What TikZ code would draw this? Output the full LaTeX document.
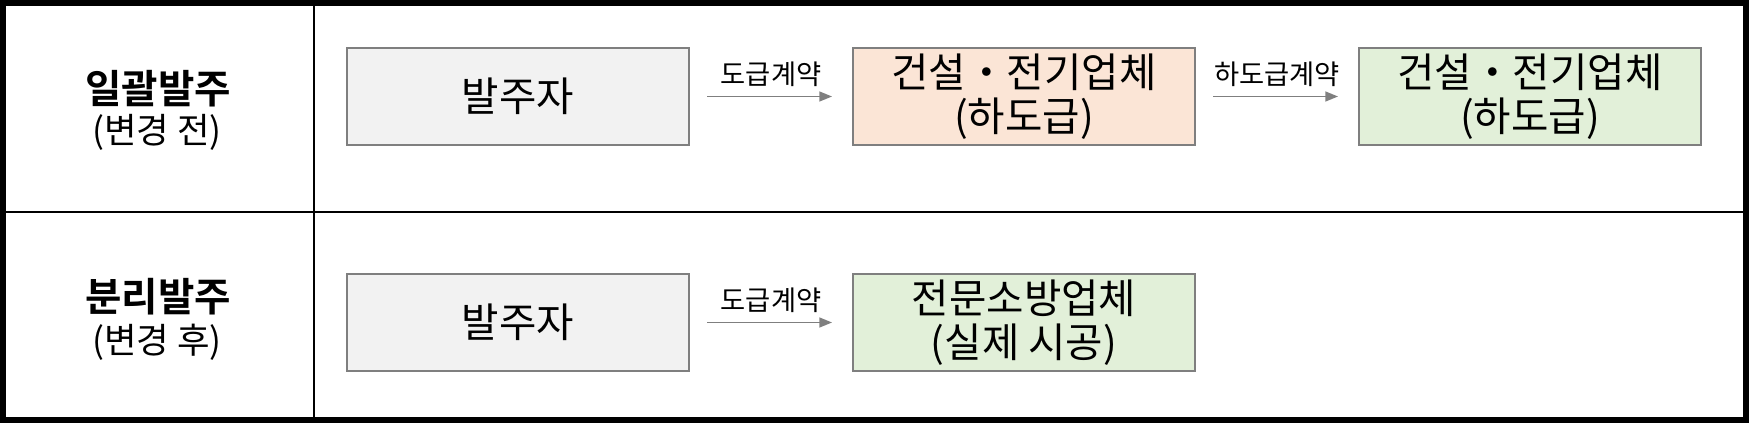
\documentclass[tikz,border=0pt]{standalone}
\usepackage{fontspec}
\setmainfont{Noto Sans CJK KR}[BoldFont=* Bold]
\usetikzlibrary{arrows.meta,positioning}

\definecolor{edgegray}{HTML}{7F7F7F}
\definecolor{ownerfill}{HTML}{F2F2F2}
\definecolor{primefill}{HTML}{FBE5D6}
\definecolor{subfill}{HTML}{E2F0D9}

\tikzset{
  party/.style={draw=edgegray, line width=1.5pt, minimum width=256.5pt,
    minimum height=72.75pt, inner sep=0pt, align=center,
    font=\fontsize{30.5}{33.4}\selectfont},
  contract/.style={draw=edgegray, line width=1pt,
    -{Triangle[length=9.5pt,width=7.5pt]},
    shorten <=12.75pt, shorten >=15pt},
  deal/.style={midway, yshift=17pt, font=\fontsize{20.5}{22}\selectfont},
  rowtitle/.style={font=\bfseries\fontsize{29.7}{32}\selectfont},
  rownote/.style={font=\fontsize{26.5}{28}\selectfont},
}

\begin{document}
\begin{tikzpicture}[x=0.75pt, y=-0.75pt]
    \useasboundingbox (0,0) rectangle (1753,427);

    % Table frame
    \draw[line width=4.5pt] (3,3) rectangle (1746,420);
    \draw[line width=1.9pt] (314,3) -- (314,420);
    \draw[line width=1.9pt] (3,212) -- (1746,212);

    % Row headings
    \node[rowtitle] (lumpsum) at (158,88.5) {일괄발주};
    \node[rownote] (lumpsumnote) at (157,132) {(변경 전)};
    \node[rowtitle] (split) at (158,296.5) {분리발주};
    \node[rownote] (splitnote) at (157,342) {(변경 후)};

    % Before: lump-sum order
    \node[party, fill=ownerfill] (owner1) at (518,96.5) {발주자};
    \node[party, fill=primefill, right=121.5pt of owner1] (builder) {건설・전기업체\\(하도급)};
    \node[party, fill=subfill, right=121.5pt of builder] (subbuilder) {건설・전기업체\\(하도급)};
    \draw[contract] (owner1) -- node[deal] {도급계약} (builder);
    \draw[contract] (builder) -- node[deal] {하도급계약} (subbuilder);

    % After: separate order
    \node[party, fill=ownerfill] (owner2) at (518,322.5) {발주자};
    \node[party, fill=subfill, right=121.5pt of owner2] (firefirm) {전문소방업체\\(실제 시공)};
    \draw[contract] (owner2) -- node[deal] {도급계약} (firefirm);
\end{tikzpicture}
\end{document}
